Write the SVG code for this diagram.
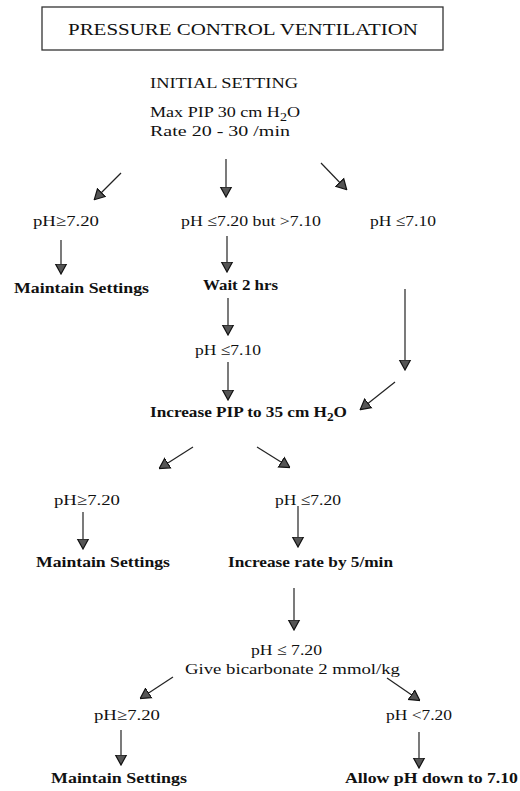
<svg xmlns="http://www.w3.org/2000/svg" width="520" height="791" viewBox="0 0 520 791">
<style>
text{font-family:"Liberation Serif","Times New Roman",serif;font-size:15.5px;fill:#111}
.b{font-weight:bold}
.t{font-size:17px}
.c line{stroke:#222;stroke-width:1.2;marker-end:url(#ah)}
</style>
<defs>
<marker id="ah" viewBox="0 0 10 14" refX="9" refY="7" markerWidth="11" markerHeight="14" markerUnits="userSpaceOnUse" orient="auto">
<path d="M0,1.5 L10,7 L0,12.5 Z" fill="#555" stroke="#111" stroke-width="1.2"/>
</marker>
</defs>
<rect width="520" height="791" fill="#fff"/>
<g id="title">
<rect x="42" y="7" width="401" height="43" fill="none" stroke="#333" stroke-width="1.3"/>
<text class="t" x="243" y="35" text-anchor="middle" textLength="350" lengthAdjust="spacingAndGlyphs">PRESSURE CONTROL VENTILATION</text>
</g>
<g id="initial">
<text x="150" y="88" textLength="148" lengthAdjust="spacingAndGlyphs">INITIAL SETTING</text>
<text x="150" y="117" textLength="150" lengthAdjust="spacingAndGlyphs">Max PIP 30 cm H<tspan dy="4" font-size="12">2</tspan><tspan dy="-4">O</tspan></text>
<text x="150" y="136" textLength="140" lengthAdjust="spacingAndGlyphs">Rate 20 - 30 /min</text>
</g>
<g id="n_ph1">
<text x="33" y="226" textLength="66" lengthAdjust="spacingAndGlyphs">pH≥7.20</text>
</g>
<g id="n_ph2">
<text x="181" y="226" textLength="140" lengthAdjust="spacingAndGlyphs">pH ≤7.20 but &gt;7.10</text>
</g>
<g id="n_ph3">
<text x="370" y="226" textLength="66" lengthAdjust="spacingAndGlyphs">pH ≤7.10</text>
</g>
<g id="n_maint1">
<text class="b" x="14" y="293" textLength="135" lengthAdjust="spacingAndGlyphs">Maintain Settings</text>
</g>
<g id="n_wait">
<text class="b" x="203" y="290" textLength="75" lengthAdjust="spacingAndGlyphs">Wait 2 hrs</text>
</g>
<g id="n_ph4">
<text x="195" y="355" textLength="66" lengthAdjust="spacingAndGlyphs">pH ≤7.10</text>
</g>
<g id="n_incpip">
<text class="b" x="150" y="417" textLength="197" lengthAdjust="spacingAndGlyphs">Increase PIP to 35 cm H<tspan dy="4" font-size="12">2</tspan><tspan dy="-4">O</tspan></text>
</g>
<g id="n_ph5">
<text x="54" y="505" textLength="66" lengthAdjust="spacingAndGlyphs">pH≥7.20</text>
</g>
<g id="n_ph6">
<text x="275" y="505" textLength="66" lengthAdjust="spacingAndGlyphs">pH ≤7.20</text>
</g>
<g id="n_maint2">
<text class="b" x="36" y="567" textLength="134" lengthAdjust="spacingAndGlyphs">Maintain Settings</text>
</g>
<g id="n_incrate">
<text class="b" x="228" y="567" textLength="165" lengthAdjust="spacingAndGlyphs">Increase rate by 5/min</text>
</g>
<g id="n_bicarb">
<text x="251" y="655" textLength="71" lengthAdjust="spacingAndGlyphs">pH ≤ 7.20</text>
<text x="185" y="674" textLength="215" lengthAdjust="spacingAndGlyphs">Give bicarbonate 2 mmol/kg</text>
</g>
<g id="n_ph7">
<text x="94" y="720" textLength="66" lengthAdjust="spacingAndGlyphs">pH≥7.20</text>
</g>
<g id="n_ph8">
<text x="386" y="720" textLength="66" lengthAdjust="spacingAndGlyphs">pH &lt;7.20</text>
</g>
<g id="n_maint3">
<text class="b" x="51" y="783" textLength="136" lengthAdjust="spacingAndGlyphs">Maintain Settings</text>
</g>
<g id="n_allow">
<text class="b" x="345" y="783" textLength="173" lengthAdjust="spacingAndGlyphs">Allow pH down to 7.10</text>
</g>
<g id="connectors" class="c">
<line x1="121" y1="173" x2="95" y2="199"/>
<line x1="226" y1="159" x2="226" y2="196"/>
<line x1="321" y1="163" x2="346" y2="189"/>
<line x1="61" y1="240" x2="61" y2="273"/>
<line x1="227" y1="236" x2="227" y2="271"/>
<line x1="228" y1="298" x2="228" y2="334"/>
<line x1="228" y1="362" x2="228" y2="399"/>
<line x1="405" y1="289" x2="405" y2="369"/>
<line x1="395" y1="382" x2="361" y2="409"/>
<line x1="193" y1="447" x2="160" y2="468"/>
<line x1="257" y1="447" x2="289" y2="467"/>
<line x1="83" y1="512" x2="83" y2="548"/>
<line x1="298" y1="506" x2="298" y2="546"/>
<line x1="294" y1="588" x2="294" y2="629"/>
<line x1="173" y1="677" x2="141" y2="698"/>
<line x1="387" y1="678" x2="419" y2="700"/>
<line x1="121" y1="730" x2="121" y2="764"/>
<line x1="419" y1="732" x2="419" y2="767"/>
</g>
</svg>
